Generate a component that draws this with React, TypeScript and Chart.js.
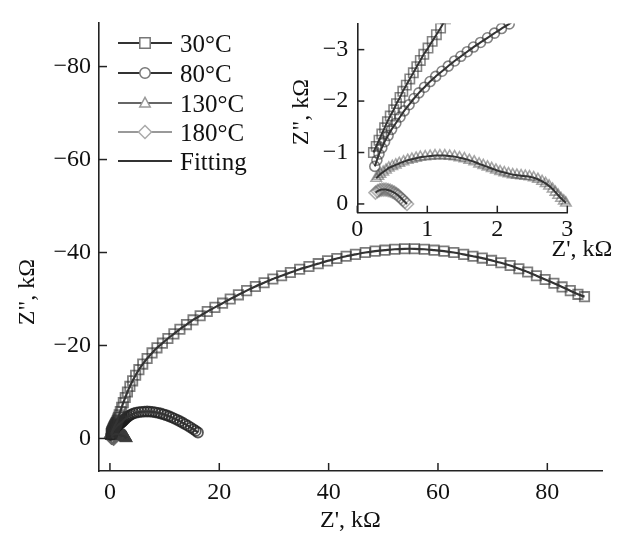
import React, { useEffect, useRef } from 'react';
import { Chart, registerables } from 'chart.js';

Chart.register(...registerables);

// ---------- data ----------
const seriesLabels = ['30°C', '80°C', '130°C', '180°C'];
const fitLabel = 'Fitting';
const mainXTicks = [0, 20, 40, 60, 80];
const mainYTicks = [0, -20, -40, -60, -80];
const insetXTicks = [0, 1, 2, 3];
const insetYTicks = [0, -1, -2, -3];
const axisTitleX = "Z', kΩ";
const axisTitleY = 'Z", kΩ';

// 30°C  (Z' , Z'' in kΩ)
const z30Re = [0.23, 0.27, 0.31, 0.35, 0.39, 0.43, 0.47, 0.52, 0.56, 0.61, 0.65, 0.70, 0.75, 0.80, 0.85, 0.90, 0.95, 1.01, 1.07, 1.13, 1.19, 1.26, 1.34, 1.43, 1.55, 1.7, 1.9, 2.15, 2.45, 2.8, 3.2, 3.65, 4.15, 4.7, 5.3, 6.0, 6.8, 7.7, 8.6, 9.6, 10.6, 11.7, 12.8, 14.0, 15.2, 16.5, 17.8, 19.2, 20.6, 22.0, 23.5, 25.0, 26.6, 28.2, 29.8, 31.4, 33.0, 34.7, 36.4, 38.1, 39.8, 41.5, 43.2, 44.9, 46.7, 48.5, 50.3, 52.1, 53.9, 55.7, 57.5, 59.3, 61.1, 62.9, 64.7, 66.4, 68.1, 69.8, 71.5, 73.2, 74.8, 76.4, 78.0, 79.6, 81.2, 82.7, 84.2, 85.6, 86.8];
const z30Im = [-1.00, -1.12, -1.24, -1.36, -1.48, -1.60, -1.71, -1.83, -1.95, -2.07, -2.19, -2.31, -2.43, -2.55, -2.67, -2.79, -2.91, -3.03, -3.16, -3.29, -3.42, -3.6, -3.85, -4.15, -4.55, -5.1, -5.8, -6.7, -7.7, -8.8, -10.0, -11.2, -12.4, -13.6, -14.8, -16.0, -17.2, -18.4, -19.5, -20.5, -21.5, -22.5, -23.5, -24.5, -25.5, -26.4, -27.3, -28.2, -29.1, -30.0, -30.9, -31.8, -32.7, -33.5, -34.3, -35.0, -35.7, -36.4, -37.0, -37.6, -38.2, -38.7, -39.2, -39.6, -40.0, -40.3, -40.5, -40.7, -40.8, -40.8, -40.7, -40.5, -40.3, -40.0, -39.6, -39.2, -38.8, -38.3, -37.8, -37.2, -36.5, -35.8, -35.0, -34.2, -33.4, -32.6, -31.8, -31.0, -30.5];

// 80°C
const z80Re = [0.25, 0.28, 0.31, 0.35, 0.39, 0.44, 0.49, 0.55, 0.61, 0.67, 0.74, 0.81, 0.88, 0.96, 1.04, 1.12, 1.21, 1.30, 1.39, 1.48, 1.57, 1.66, 1.76, 1.86, 1.96, 2.06, 2.17, 2.3, 2.45, 2.62, 2.82, 3.05, 3.3, 3.6, 3.95, 4.35, 4.8, 5.3, 5.8, 6.3, 6.8, 7.3, 7.8, 8.3, 8.8, 9.3, 9.8, 10.3, 10.8, 11.3, 11.8, 12.3, 12.8, 13.3, 13.8, 14.3, 14.8, 15.3, 15.7, 16.1];
const z80Im = [-0.73, -0.85, -0.97, -1.09, -1.21, -1.33, -1.45, -1.57, -1.69, -1.81, -1.93, -2.05, -2.16, -2.27, -2.38, -2.48, -2.58, -2.68, -2.78, -2.87, -2.96, -3.05, -3.14, -3.23, -3.32, -3.41, -3.50, -3.64, -3.82, -4.02, -4.24, -4.48, -4.72, -4.96, -5.18, -5.38, -5.54, -5.66, -5.74, -5.78, -5.8, -5.78, -5.72, -5.63, -5.51, -5.37, -5.2, -5.0, -4.78, -4.54, -4.28, -4.0, -3.7, -3.38, -3.05, -2.7, -2.34, -1.96, -1.62, -1.28];

// 130°C
const z130Re = [0.27, 0.3, 0.33, 0.37, 0.41, 0.45, 0.5, 0.55, 0.6, 0.66, 0.72, 0.78, 0.84, 0.9, 0.97, 1.04, 1.11, 1.18, 1.25, 1.32, 1.39, 1.46, 1.53, 1.6, 1.67, 1.74, 1.8, 1.86, 1.92, 1.98, 2.04, 2.1, 2.16, 2.22, 2.28, 2.34, 2.4, 2.46, 2.52, 2.58, 2.64, 2.69, 2.74, 2.79, 2.83, 2.87, 2.91, 2.95, 2.98];
const z130Im = [-0.5, -0.54, -0.58, -0.62, -0.66, -0.7, -0.73, -0.76, -0.79, -0.82, -0.85, -0.87, -0.89, -0.91, -0.92, -0.93, -0.94, -0.94, -0.94, -0.93, -0.92, -0.9, -0.88, -0.85, -0.82, -0.78, -0.75, -0.72, -0.69, -0.66, -0.63, -0.61, -0.59, -0.57, -0.56, -0.55, -0.54, -0.53, -0.51, -0.48, -0.44, -0.4, -0.35, -0.29, -0.23, -0.17, -0.11, -0.06, -0.02];

// 180°C
const z180Re = [0.26, 0.29, 0.32, 0.35, 0.38, 0.41, 0.44, 0.47, 0.5, 0.53, 0.56, 0.59, 0.62, 0.65, 0.68, 0.71];
const z180Im = [-0.22, -0.25, -0.27, -0.28, -0.28, -0.28, -0.27, -0.26, -0.24, -0.22, -0.19, -0.16, -0.12, -0.08, -0.04, 0.0];

const seriesRe = [z30Re, z80Re, z130Re, z180Re];
const seriesIm = [z30Im, z80Im, z130Im, z180Im];

// ---------- styles ----------
const FONT = '"Liberation Serif", "Times New Roman", serif';
const FONT_SIZE = 24;
const LEGEND_FONT_SIZE = 25;
const pointStyles = ['rect', 'circle', 'triangle', 'rectRot'];
const pointRadii = [6.6, 5, 6, 6.5];
const mainPointColors = ['rgba(45,45,45,0.62)', 'rgba(30,30,30,0.75)', 'rgba(60,60,60,0.65)', 'rgba(100,100,100,0.55)'];
const insetPointColors = ['rgba(50,50,50,0.6)', 'rgba(50,50,50,0.6)', 'rgba(80,80,80,0.5)', 'rgba(100,100,100,0.5)'];
const legendLineColors = ['#333', '#333', '#666', '#999'];
const legendMarkColors = ['#777', '#777', '#999', '#aaa'];
const FIT_COLOR = '#333';

const toPts = (xs: number[], ys: number[]) => xs.map((x, i) => ({ x, y: ys[i] }));
const fmt = (v: number) => String(v).replace('-', '\u2212');

function buildDatasets(clip: any, fitWidth: number, colors: string[], bw: number) {
  const ds: any[] = [];
  seriesLabels.forEach((label, i) => {
    ds.push({
      label,
      data: toPts(seriesRe[i], seriesIm[i]),
      showLine: false,
      pointStyle: pointStyles[i],
      pointRadius: pointRadii[i],
      pointBorderWidth: bw,
      pointBorderColor: colors[i],
      pointBackgroundColor: 'rgba(0,0,0,0)',
      order: 2,
      clip,
    });
  });
  seriesLabels.forEach((label, i) => {
    ds.push({
      label: fitLabel + ' ' + label,
      data: toPts(seriesRe[i], seriesIm[i]),
      showLine: true,
      borderColor: FIT_COLOR,
      borderWidth: fitWidth,
      tension: 0.2,
      pointRadius: 0,
      fill: false,
      order: 1,
      clip,
    });
  });
  return ds;
}

function inwardTicks(len: number) {
  return {
    id: 'inwardTicks',
    afterDraw(chart: any) {
      const { ctx, chartArea, scales } = chart;
      ctx.save();
      ctx.strokeStyle = '#222';
      ctx.lineWidth = 1.5;
      scales.x.ticks.forEach((t: any) => {
        const px = scales.x.getPixelForValue(t.value);
        ctx.beginPath();
        ctx.moveTo(px, chartArea.bottom);
        ctx.lineTo(px, chartArea.bottom - len);
        ctx.stroke();
      });
      scales.y.ticks.forEach((t: any) => {
        const py = scales.y.getPixelForValue(t.value);
        ctx.beginPath();
        ctx.moveTo(chartArea.left, py);
        ctx.lineTo(chartArea.left + len, py);
        ctx.stroke();
      });
      ctx.restore();
    },
  };
}

type TextItem = { text: string; x: number; y: number; rot?: number; align?: CanvasTextAlign };
function textPlugin(items: TextItem[]) {
  return {
    id: 'texts',
    afterDraw(chart: any) {
      const { ctx } = chart;
      ctx.save();
      ctx.fillStyle = '#111';
      ctx.font = `${FONT_SIZE}px ${FONT}`;
      ctx.textBaseline = 'middle';
      items.forEach((it) => {
        ctx.save();
        ctx.translate(it.x, it.y);
        if (it.rot) ctx.rotate(it.rot);
        ctx.textAlign = it.align || 'center';
        ctx.fillText(it.text, 0, 0);
        ctx.restore();
      });
      ctx.restore();
    },
  };
}

function drawMarker(ctx: CanvasRenderingContext2D, style: string, x: number, y: number, r: number) {
  ctx.beginPath();
  if (style === 'rect') {
    ctx.rect(x - r, y - r, 2 * r, 2 * r);
  } else if (style === 'circle') {
    ctx.arc(x, y, r, 0, Math.PI * 2);
  } else if (style === 'triangle') {
    ctx.moveTo(x, y - r * 1.1);
    ctx.lineTo(x + r, y + r * 0.75);
    ctx.lineTo(x - r, y + r * 0.75);
    ctx.closePath();
  } else {
    ctx.moveTo(x, y - r);
    ctx.lineTo(x + r, y);
    ctx.lineTo(x, y + r);
    ctx.lineTo(x - r, y);
    ctx.closePath();
  }
  ctx.fillStyle = '#fff';
  ctx.fill();
  ctx.stroke();
}

const legendPlugin = {
  id: 'customLegend',
  afterDraw(chart: any) {
    const { ctx } = chart;
    const rowsY = [43, 73, 103, 132, 161];
    const x0 = 118, x1 = 172, xm = 145, xt = 180;
    ctx.save();
    ctx.font = `${LEGEND_FONT_SIZE}px ${FONT}`;
    ctx.textBaseline = 'middle';
    ctx.textAlign = 'left';
    const labels = [...seriesLabels, fitLabel];
    labels.forEach((lab, i) => {
      const y = rowsY[i];
      ctx.lineWidth = 2;
      ctx.strokeStyle = i < 4 ? legendLineColors[i] : FIT_COLOR;
      ctx.beginPath();
      ctx.moveTo(x0, y);
      ctx.lineTo(x1, y);
      ctx.stroke();
      if (i < 4) {
        ctx.lineWidth = 1.5;
        ctx.strokeStyle = legendMarkColors[i];
        drawMarker(ctx, pointStyles[i], xm, y, i === 3 ? 6.5 : 5.2);
      }
      ctx.fillStyle = '#111';
      ctx.fillText(lab, xt, y + 2);
    });
    ctx.restore();
  },
};

function scaleOpts(min: number, max: number, ticks: number[], padding: number, extra: any) {
  return {
    type: 'linear',
    min,
    max,
    grid: { display: false, drawTicks: false },
    border: { display: true, color: '#222', width: 1.6 },
    ticks: {
      font: { family: FONT, size: FONT_SIZE },
      color: '#111',
      autoSkip: false,
      maxRotation: 0,
      padding,
      callback: (v: number) => fmt(v),
    },
    afterBuildTicks: (s: any) => {
      s.ticks = ticks.map((v) => ({ value: v }));
    },
    ...extra,
  };
}

export default function App() {
  const mainRef = useRef<HTMLCanvasElement>(null);
  const insetRef = useRef<HTMLCanvasElement>(null);

  useEffect(() => {
    const main = new Chart(mainRef.current as HTMLCanvasElement, {
      type: 'scatter',
      data: { datasets: buildDatasets(false, 2.2, mainPointColors, 1.8) },
      options: {
        animation: false,
        responsive: false,
        devicePixelRatio: 1,
        layout: { padding: { left: 0, right: 24, top: 13, bottom: 0 } },
        plugins: { legend: { display: false }, tooltip: { enabled: false } },
        scales: {
          x: scaleOpts(-2, 90, mainXTicks, 7, { afterFit: (s: any) => { s.height = 64; } }),
          y: scaleOpts(-89.5, 7, mainYTicks, 8, { reverse: true, afterFit: (s: any) => { s.width = 99; } }),
        },
      } as any,
      plugins: [
        inwardTicks(8),
        textPlugin([
          { text: axisTitleX, x: 350.5, y: 521 },
          { text: axisTitleY, x: 28, y: 292, rot: -Math.PI / 2 },
        ]),
        legendPlugin,
      ],
    });

    const inset = new Chart(insetRef.current as HTMLCanvasElement, {
      type: 'scatter',
      data: { datasets: buildDatasets({ left: 10, right: 10, top: 0, bottom: 10 }, 2, insetPointColors, 1.6) },
      options: {
        animation: false,
        responsive: false,
        devicePixelRatio: 1,
        layout: { padding: { left: 0, right: 58.7, top: 11, bottom: 0 } },
        plugins: { legend: { display: false }, tooltip: { enabled: false } },
        scales: {
          x: scaleOpts(0, 3, insetXTicks, 3, { afterFit: (s: any) => { s.height = 52.3; } }),
          y: scaleOpts(-3.51, 0.17, insetYTicks, 9, { reverse: true, afterFit: (s: any) => { s.width = 77.3; } }),
        },
      } as any,
      plugins: [
        inwardTicks(7),
        textPlugin([
          { text: axisTitleX, x: 302, y: 250 },
          { text: axisTitleY, x: 22, y: 112, rot: -Math.PI / 2 },
        ]),
      ],
    });

    return () => {
      main.destroy();
      inset.destroy();
    };
  }, []);

  return (
    <div style={{ position: 'absolute', left: 0, top: 0, width: 626, height: 535, background: '#fff' }}>
      <canvas ref={mainRef} width={626} height={535} style={{ position: 'absolute', left: 0, top: 0, width: 626, height: 535 }} />
      <canvas ref={insetRef} width={346} height={265} style={{ position: 'absolute', left: 280, top: 0, width: 346, height: 265 }} />
    </div>
  );
}
